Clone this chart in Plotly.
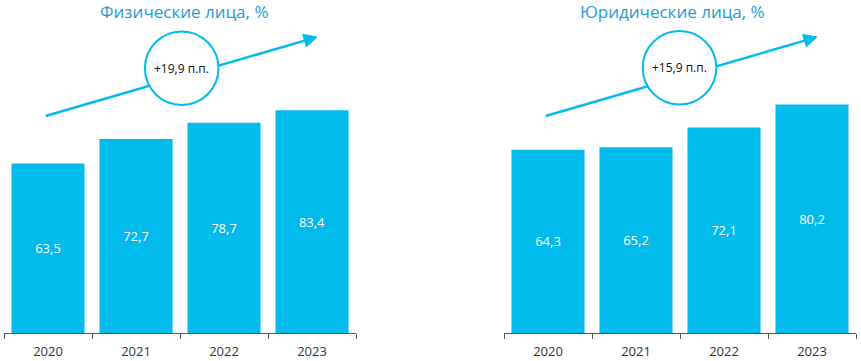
import plotly.graph_objects as go
from plotly.subplots import make_subplots

years = ["2020", "2021", "2022", "2023"]
individuals = [63.5, 72.7, 78.7, 83.4]
legal_entities = [64.3, 65.2, 72.1, 80.2]
titles = ["Физические лица, %", "Юридические лица, %"]
growth_labels = ["+19,9 п.п.", "+15,9 п.п."]

W, H = 861, 361
PLOT_BOTTOM = 333  # pixel y of baseline
BAR_COLOR = "#00bbec"
TITLE_COLOR = "#1f9bd7"

def px(x):
    return x / W

def py(y):
    return (PLOT_BOTTOM - y) / PLOT_BOTTOM

fig = make_subplots(rows=1, cols=2)

for i, vals in enumerate([individuals, legal_entities]):
    fig.add_trace(
        go.Bar(
            x=years, y=vals,
            marker=dict(color=BAR_COLOR, line=dict(width=0)),
            text=[f"{v:.1f}".replace(".", ",") for v in vals],
            textposition="inside", insidetextanchor="middle",
            textfont=dict(color="white", size=13, family="Open Sans"),
            hoverinfo="skip", showlegend=False,
        ),
        row=1, col=i + 1,
    )

fig.update_layout(
    width=W, height=H,
    margin=dict(l=0, r=0, t=0, b=H - PLOT_BOTTOM),
    paper_bgcolor="white", plot_bgcolor="white",
    bargap=0.17,
    xaxis=dict(domain=[px(4), px(356)]),
    xaxis2=dict(domain=[px(504), px(856)]),
    yaxis=dict(range=[0, PLOT_BOTTOM / 2.67]),
    yaxis2=dict(range=[0, PLOT_BOTTOM / 2.85]),
)
fig.update_xaxes(
    showline=True, linecolor="#555555", linewidth=1,
    ticks="outside", tickson="boundaries", ticklen=5, tickcolor="#555555",
    ticklabelstandoff=6,
    tickfont=dict(size=13, color="#333333", family="Open Sans"),
    showgrid=False, zeroline=False, fixedrange=True,
)
fig.update_yaxes(visible=False, showgrid=False, zeroline=False, fixedrange=True)

shapes = []
annotations = []
offsets = [0, 500]
circle_centers = [(181.7, 68.3), (679.5, 67.8)]
for k, off in enumerate(offsets):
    sx, sy = 45.7 + off, 116.0
    tx, ty = 317.0 + off, 37.0
    dx, dy = tx - sx, ty - sy
    L = (dx ** 2 + dy ** 2) ** 0.5
    ux, uy = dx / L, dy / L
    nx, ny = -uy, ux
    hl, hw = 13.0, 6.5
    bx, by = tx - hl * ux, ty - hl * uy
    shapes.append(dict(type="line", xref="paper", yref="paper",
                       x0=px(sx), y0=py(sy), x1=px(bx + ux), y1=py(by + uy),
                       line=dict(color=BAR_COLOR, width=2.5)))
    cx, cy = circle_centers[k]
    r = 36.8
    shapes.append(dict(type="circle", xref="paper", yref="paper",
                       x0=px(cx - r), x1=px(cx + r), y0=py(cy + r), y1=py(cy - r),
                       fillcolor="white", line=dict(color=BAR_COLOR, width=2)))
    p1 = (bx + hw * nx, by + hw * ny)
    p2 = (bx - hw * nx, by - hw * ny)
    path = (f"M {px(tx)} {py(ty)} L {px(p1[0])} {py(p1[1])} "
            f"L {px(p2[0])} {py(p2[1])} Z")
    shapes.append(dict(type="path", xref="paper", yref="paper", path=path,
                       fillcolor=BAR_COLOR, line=dict(color=BAR_COLOR, width=1)))
    annotations.append(dict(text=growth_labels[k], xref="paper", yref="paper",
                            x=px(cx), y=py(cy), showarrow=False,
                            xanchor="center", yanchor="middle",
                            font=dict(size=12, color="#111111", family="Open Sans")))
    title_x = [184, 672][k]
    annotations.append(dict(text=titles[k], xref="paper", yref="paper",
                            x=px(title_x), y=py(11), showarrow=False,
                            xanchor="center", yanchor="middle",
                            font=dict(size=17, color=TITLE_COLOR, family="Open Sans")))

fig.update_layout(shapes=shapes, annotations=annotations)
fig.write_html("out.html",
               config={"displayModeBar": False, "staticPlot": True},
               post_script="document.body.style.margin='0';document.body.style.overflow='hidden';")
